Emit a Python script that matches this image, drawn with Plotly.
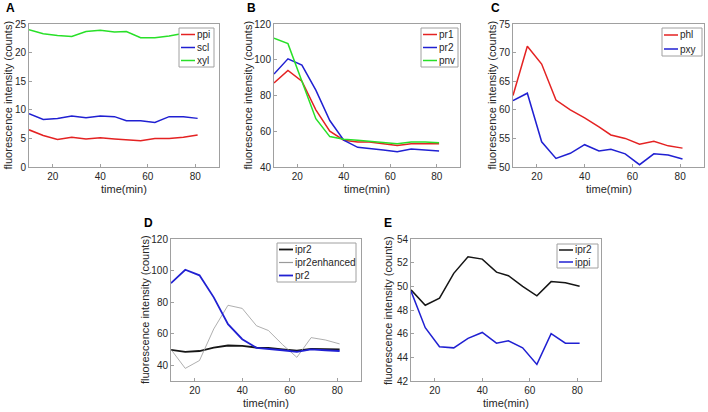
import plotly.graph_objects as go

time_min = [10, 16, 22, 28, 34, 40, 46, 51, 57, 63, 69, 75, 81]

# Panel A
a_ppi = [6.5, 5.5, 4.8, 5.2, 4.9, 5.1, 4.9, 4.8, 4.6, 5.0, 5.0, 5.2, 5.6]
a_scl = [9.3, 8.3, 8.5, 8.9, 8.6, 8.9, 8.8, 8.1, 8.1, 7.8, 8.8, 8.8, 8.5]
a_xyl = [24.0, 23.3, 23.0, 22.8, 23.7, 23.9, 23.6, 23.7, 22.6, 22.6, 22.9, 23.4, 23.8]

# Panel B
b_pr1 = [87, 94, 88, 72, 60, 55, 54, 54, 53, 52, 53, 53, 53]
b_pr2 = [92, 100.5, 97, 83, 66, 55, 51, 50.5, 49.5, 48.5, 50, 49.5, 49]
b_pnv = [112, 109, 88, 67, 57, 55.5, 55, 54.5, 54, 53, 54, 54, 53.5]

# Panel C
c_phl = [62.5, 71.1, 68.0, 61.7, 60.0, 58.6, 57.0, 55.6, 55.0, 54.0, 54.5, 53.7, 53.3]
c_pxy = [61.6, 62.9, 54.4, 51.5, 52.4, 53.9, 52.8, 53.1, 52.3, 50.4, 52.3, 52.1, 51.4]

# Panel D
d_ipr2 = [49.7, 48.4, 49.0, 51.1, 52.5, 52.3, 51.2, 50.9, 50.0, 49.2, 50.4, 50.3, 50.0]
d_ipr2enh = [50, 38, 43, 63, 78, 76, 65, 62, 53, 45, 57.5, 56, 53.5]
d_pr2 = [92, 100.5, 97, 83, 66, 56.5, 51, 50.5, 49.5, 48.5, 50, 49.5, 49]

# Panel E
e_ipr2 = [49.7, 48.4, 49.0, 51.1, 52.5, 52.3, 51.2, 50.9, 50.0, 49.2, 50.4, 50.3, 50.0]
e_ippi = [49.6, 46.5, 44.9, 44.8, 45.6, 46.1, 45.2, 45.4, 44.8, 43.4, 46.0, 45.2, 45.2]

x_ticks = [20, 40, 60, 80]
W, H = 708, 412

RED = "#e42222"
BLUE = "#2020d2"
GREEN = "#28e028"
BLACK = "#151515"
GRAY = "#9a9a9a"
FRAME = "#a0a0a0"
TXT = "#262626"

panels = [
    # label, plot box px (x0,x1,y0,y1), yrange, yticks, series, legend box px (x0,x1,y0,y1), letter x px, ytitle offset
    ("A", (29, 219, 24, 167), [0, 25], [0, 5, 10, 15, 20, 25],
     [("ppi", a_ppi, RED, 1.5), ("scl", a_scl, BLUE, 1.5), ("xyl", a_xyl, GREEN, 1.5)],
     (179, 214, 28, 67), 4, 21),
    ("B", (274, 460, 24, 167), [40, 120], [40, 60, 80, 100, 120],
     [("pr1", b_pr1, RED, 1.5), ("pr2", b_pr2, BLUE, 1.5), ("pnv", b_pnv, GREEN, 1.5)],
     (421, 458, 28, 67), 245, 26),
    ("C", (513, 704, 24, 167), [50, 75], [50, 55, 60, 65, 70, 75],
     [("phl", c_phl, RED, 1.5), ("pxy", c_pxy, BLUE, 1.5)],
     (662, 702, 28, 56), 489, 21),
    ("D", (171, 361, 239, 381), [30, 120], [40, 60, 80, 100, 120],
     [("ipr2", d_ipr2, BLACK, 1.8), ("ipr2enhanced", d_ipr2enh, GRAY, 0.8), ("pr2", d_pr2, BLUE, 1.8)],
     (277, 356, 243, 282), 142, 26),
    ("E", (411, 601, 239, 381), [42, 54], [42, 44, 46, 48, 50, 52, 54],
     [("ipr2", e_ipr2, BLACK, 1.5), ("ippi", e_ippi, BLUE, 1.5)],
     (557, 598, 244, 268), 382, 23),
]

def px(x):
    return x / W

def py(y):
    return 1 - y / H

fig = go.Figure()
layout = dict(
    width=W, height=H,
    margin=dict(l=0, r=0, t=0, b=0),
    paper_bgcolor="white", plot_bgcolor="white",
    font=dict(family="Liberation Sans, Arial, sans-serif", size=10, color=TXT),
    showlegend=False,
)
annotations = []
shapes = []

axis_common = dict(
    showline=True, linecolor=FRAME, linewidth=1, mirror=True,
    ticks="inside", ticklen=3, tickcolor=FRAME,
    showgrid=False, zeroline=False, automargin=False,
    tickfont=dict(size=10, color=TXT),
)

for i, (label, (x0, x1, y0, y1), yr, yt, series, (lx0, lx1, ly0, ly1), letter_x, yto) in enumerate(panels):
    n = i + 1
    xa = "xaxis" if n == 1 else f"xaxis{n}"
    ya = "yaxis" if n == 1 else f"yaxis{n}"
    xref = "x" if n == 1 else f"x{n}"
    yref = "y" if n == 1 else f"y{n}"
    layout[xa] = dict(axis_common, domain=[px(x0), px(x1)], anchor=yref,
                      range=[10, 90], tickvals=x_ticks)
    layout[ya] = dict(axis_common, domain=[py(y1), py(y0)], anchor=xref,
                      range=yr, tickvals=yt)
    for name, vals, color, width in series:
        fig.add_trace(go.Scatter(
            x=time_min, y=vals, mode="lines", name=name,
            line=dict(color=color, width=width),
            xaxis=xref, yaxis=yref, hoverinfo="x+y+name",
        ))
    # axis titles
    annotations.append(dict(
        text="time(min)", xref="paper", yref="paper",
        x=px((x0 + x1) / 2), y=py(y1 + 22), xanchor="center", yanchor="middle",
        showarrow=False, font=dict(size=11, color=TXT),
    ))
    annotations.append(dict(
        text="fluorescence intensity (counts)", xref="paper", yref="paper",
        x=px(x0 - yto), y=py((y0 + y1) / 2), xanchor="center", yanchor="middle",
        textangle=-90, showarrow=False, font=dict(size=11, color=TXT),
    ))
    # panel letter
    annotations.append(dict(
        text=f"<b>{label}</b>", xref="paper", yref="paper",
        x=px(letter_x), y=py(y0 - 16), xanchor="left", yanchor="middle",
        showarrow=False, font=dict(size=12, color="black"),
    ))
    # legend box (MATLAB style)
    shapes.append(dict(type="rect", xref="paper", yref="paper",
                       x0=px(lx0), x1=px(lx1), y0=py(ly1), y1=py(ly0),
                       fillcolor="white", line=dict(color=FRAME, width=1), layer="above"))
    nitems = len(series)
    step = (ly1 - ly0) / nitems
    for k, (name, vals, color, width) in enumerate(series):
        yc = ly0 + step * (k + 0.5)
        shapes.append(dict(type="line", xref="paper", yref="paper",
                           x0=px(lx0 + 2), x1=px(lx0 + 16), y0=py(yc), y1=py(yc),
                           line=dict(color=color, width=max(width, 1.2)), layer="above"))
        annotations.append(dict(
            text=name, xref="paper", yref="paper",
            x=px(lx0 + 16), y=py(yc), xanchor="left", yanchor="middle",
            showarrow=False, font=dict(size=10, color=TXT),
        ))

layout["annotations"] = annotations
layout["shapes"] = shapes
fig.update_layout(**layout)
fig.write_html("out.html", config={"displayModeBar": False},
               post_script="document.body.style.margin='0px';")
